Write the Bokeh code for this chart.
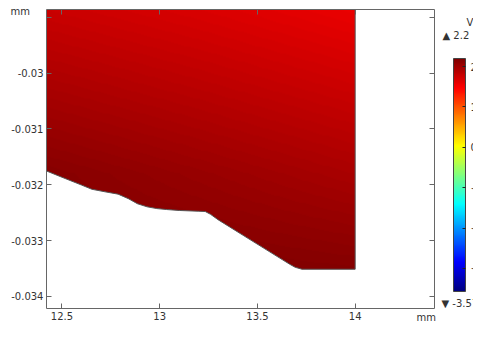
import numpy as np
from bokeh.plotting import figure
from bokeh.models import (Range1d, LinearAxis, FixedTicker, LinearColorMapper,
                          ColorBar)
from bokeh.embed import file_html
from bokeh.resources import INLINE

# ---------------- data ----------------
x_ticks = [12.5, 13.0, 13.5, 14.0]
x_tick_labels = ["12.5", "13", "13.5", "14"]
y_ticks = [-0.034, -0.033, -0.032, -0.031, -0.030, -0.029]
y_tick_labels = ["-0.034", "-0.033", "-0.032", "-0.031", "-0.03", ""]

x_start, x_end = 12.4208, 14.4059
y_start, y_end = -0.034219, -0.028857

# lower boundary of the domain (mm)
boundary_x = [12.4208, 12.50, 12.60, 12.653, 12.72, 12.787, 12.84, 12.886, 12.935,
              12.985, 13.035, 13.10, 13.20, 13.233, 13.26, 13.30, 13.431, 13.629,
              13.665, 13.693, 13.728, 14.0]
boundary_y = [-0.031753, -0.031865, -0.032005, -0.032081, -0.032126, -0.032168,
              -0.032250, -0.032340, -0.032395, -0.032427, -0.032444, -0.032461,
              -0.032475, -0.032480, -0.032530, -0.032630, -0.032916, -0.033347,
              -0.033425, -0.033480, -0.033515, -0.033515]
domain_right = 14.0

# electric potential (V) read at a coarse grid of points
field_x = [12.4208, 13.21, 14.0]
field_y = [-0.0336, -0.0318, -0.028857]
field_v = [[2.20, 2.20, 2.17],
           [2.15, 2.05, 1.95],
           [1.77, 1.68, 1.58]]

v_min, v_max = -3.57, 2.2
cbar_ticks = [-3, -2, -1, 0, 1, 2]
unit_label = "mm"
cbar_unit = "V"
max_label = "\u25b2 2.2"
min_label = "\u25bc -3.57"

# ---------------- layout (pixels) ----------------
W, H = 473, 324
FL, FR, FT, FB = 46, 434, 9, 308   # frame edges


def jet_palette(n=256):
    out = []
    for i in range(n):
        t = i / (n - 1)
        r = min(max(1.5 - abs(4 * t - 3), 0), 1)
        g = min(max(1.5 - abs(4 * t - 2), 0), 1)
        b = min(max(1.5 - abs(4 * t - 1), 0), 1)
        out.append("#%02x%02x%02x" % (int(r * 255), int(g * 255), int(b * 255)))
    return out


mapper = LinearColorMapper(palette=jet_palette(), low=v_min, high=v_max)

nx, ny = 400, 300
gx = np.linspace(field_x[0], field_x[-1], nx)
gy = np.linspace(field_y[0], field_y[-1], ny)
rows = np.array([np.interp(gx, field_x, r) for r in field_v])
img = np.empty((ny, nx))
for j in range(nx):
    img[:, j] = np.interp(gy, field_y, rows[:, j])

FONT = "DejaVu Sans"
TXT = "#333333"
AX = "#666666"

p = figure(width=W, height=H, output_backend="svg", toolbar_location=None,
           x_range=Range1d(x_start, x_end), y_range=Range1d(y_start, y_end),
           min_border_left=FL, min_border_right=W - FR, min_border_top=FT,
           min_border_bottom=H - FB)
p.grid.visible = False
p.outline_line_color = None
p.background_fill_color = "white"
p.border_fill_color = "white"

p.image(image=[img], x=field_x[0], y=field_y[0],
        dw=field_x[-1] - field_x[0], dh=field_y[-1] - field_y[0],
        color_mapper=mapper)

mask_x = boundary_x + [domain_right + 0.01, domain_right + 0.01, 12.40, 12.40]
mask_y = boundary_y + [boundary_y[-1], -0.0340, -0.0340, boundary_y[0]]
p.patch(mask_x, mask_y, fill_color="white", line_color=None)

p.line(boundary_x + [domain_right], boundary_y + [y_end],
       line_color="#555555", line_width=1)


def style_axis(ax, ticks, labels=None):
    ax.ticker = FixedTicker(ticks=ticks)
    ax.axis_line_color = AX
    ax.major_tick_line_color = AX
    ax.major_tick_in = 5
    ax.major_tick_out = 0
    ax.minor_tick_line_color = None
    ax.major_label_text_font = FONT
    ax.major_label_text_color = TXT
    if labels is None:
        ax.major_label_overrides = {t: " " for t in ticks}
        ax.major_label_text_font_size = "1px"
        ax.major_label_standoff = 0
    else:
        ax.major_label_text_font_size = "10px"
        ax.major_label_overrides = {t: l for t, l in zip(ticks, labels)}


style_axis(p.xaxis[0], x_ticks, x_tick_labels)
p.xaxis[0].major_label_standoff = 3
style_axis(p.yaxis[0], y_ticks, y_tick_labels)
p.yaxis[0].major_label_standoff = 3

top_axis = LinearAxis()
style_axis(top_axis, x_ticks)
p.add_layout(top_axis, "above")
right_axis = LinearAxis()
style_axis(right_axis, y_ticks)
p.add_layout(right_axis, "right")

cb_top, cb_bot = 58, 291
cb = ColorBar(color_mapper=mapper, orientation="vertical", width=12,
              height=cb_bot - cb_top, padding=0,
              location=(453 - FL, FB - cb_bot), ticker=FixedTicker(ticks=cbar_ticks),
              major_label_text_font=FONT, major_label_text_font_size="10px",
              major_label_text_color=TXT, label_standoff=5,
              major_tick_line_color="#222222", major_tick_in=3, major_tick_out=0,
              minor_tick_line_color=None, bar_line_color="#444444",
              background_fill_alpha=0, border_line_color=None)
p.add_layout(cb, "center")


# free texts outside the frame (a bar-less colour bar title used as a text box)
def add_text(px_left, py_center, text):
    holder = ColorBar(color_mapper=mapper, orientation="horizontal", width=1, height=1,
                      padding=0, location=(px_left - FL, FB - py_center - 7),
                      ticker=FixedTicker(ticks=[]), scale_alpha=0,
                      bar_line_color=None, major_tick_line_color=None,
                      minor_tick_line_color=None, title=text,
                      title_text_font=FONT, title_text_font_size="10px",
                      title_text_font_style="normal", title_text_color=TXT,
                      title_standoff=0, background_fill_alpha=0,
                      border_line_color=None)
    p.add_layout(holder, "center")


add_text(10, 10, unit_label)
add_text(416, 316, unit_label)
add_text(466, 21, cbar_unit)
add_text(442, 34, max_label)
add_text(441, 302, min_label)

open("out.html", "w").write(file_html(p, INLINE))
